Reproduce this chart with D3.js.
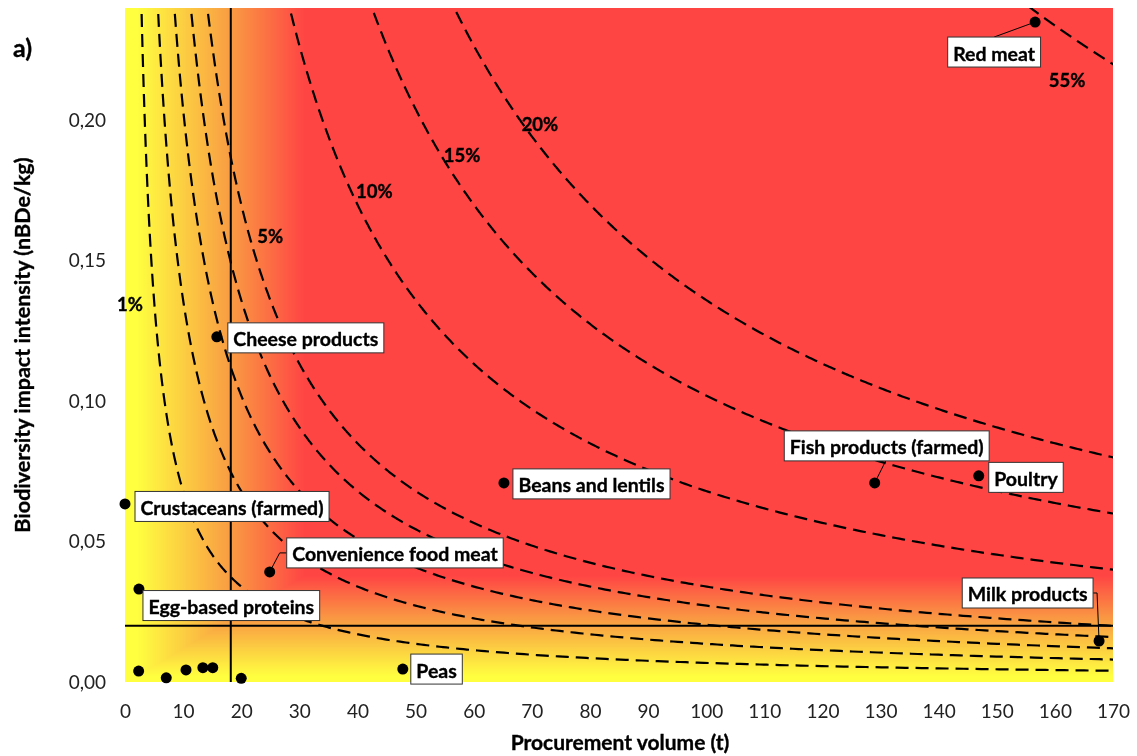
<!DOCTYPE html>
<html>
<head>
<meta charset="utf-8">
<script src="https://cdn.jsdelivr.net/npm/d3@7"></script>
<style>
  html, body { margin: 0; padding: 0; background: #fff; }
  #wrap { position: relative; width: 1137px; height: 756px; }
  #bg, #chart { position: absolute; left: 0; top: 0; }
  text { font-family: Lato, "Open Sans", sans-serif; }
  .bold { font-weight: bold; stroke: #000; stroke-width: 0.35px; }
</style>
</head>
<body>
<div id="wrap">
  <canvas id="bg" width="1137" height="756"></canvas>
  <svg id="chart" width="1137" height="756"></svg>
</div>
<script>
// products: procurement volume (t) and biodiversity impact intensity (nBDe/kg)
const products = ["Red meat", "Cheese products", "Crustaceans (farmed)", "Convenience food meat",
  "Egg-based proteins", "Peas", "Beans and lentils", "Fish products (farmed)", "Poultry", "Milk products"];
const volumes = [156.6, 15.8, 0.0, 24.9, 2.4, 47.8, 65.2, 129.0, 146.9, 167.6];
const intensities = [0.235, 0.1229, 0.0634, 0.0392, 0.0331, 0.0046, 0.0709, 0.0709, 0.0734, 0.0146];

// small unlabeled products near the origin
const otherVolumes = [2.35, 7.1, 10.5, 13.4, 15.1, 20.0];
const otherIntensities = [0.0039, 0.0015, 0.0043, 0.0051, 0.0051, 0.0013];

// iso-impact curves (share of total impact), total in t*nBDe/kg
const totalImpact = 68;
const curveShares = [1, 2, 3, 4, 5, 10, 15, 20, 55];
const labeledShares = [1, 5, 10, 15, 20, 55];
const shareLabelX = [0.86, 25.0, 42.9, 58.0, 71.4, 162.1];
const shareLabelY = [0.1346, 0.1588, 0.1749, 0.1877, 0.1987, 0.2144];

// reference lines
const meanVolume = 18.2;
const meanIntensity = 0.02;

const xTicks = d3.range(0, 171, 10);
const yTicks = [0, 0.05, 0.10, 0.15, 0.20];

const pLeft = 125, pRight = 1113, pTop = 8, pBottom = 682;
const x = d3.scaleLinear().domain([0, 170]).range([pLeft, pRight]);
const y = d3.scaleLinear().domain([0, 0.24]).range([pBottom, pTop]);

// background: yellow -> orange -> red
const col = d3.scaleLinear().domain([0, 0.55, 1])
  .range(["#ffff40", "#f99d43", "#ff4444"]).clamp(true);
const ctx = document.getElementById("bg").getContext("2d");
const W = pRight - pLeft, H = pBottom - pTop;
const img = ctx.createImageData(W, H);
for (let py = 0; py < H; py++) {
  const yv = y.invert(py + pTop + 0.5);
  const ty = Math.max(0, Math.min(1, (yv - 0.002) / 0.036));
  for (let px = 0; px < W; px++) {
    const xv = x.invert(px + pLeft + 0.5);
    const tx = Math.max(0, Math.min(1, (xv - 2) / 29));
    const c = d3.rgb(col(Math.min(tx, ty)));
    const i = (py * W + px) * 4;
    img.data[i] = c.r; img.data[i + 1] = c.g; img.data[i + 2] = c.b; img.data[i + 3] = 255;
  }
}
ctx.putImageData(img, pLeft, pTop);

const svg = d3.select("#chart");
const fmt = d => d3.format(".2f")(d).replace(".", ",");

svg.append("defs").append("clipPath").attr("id", "plot")
  .append("rect").attr("x", pLeft).attr("y", pTop).attr("width", W).attr("height", H);

// axes (labels only)
const gx = svg.append("g").attr("transform", `translate(0,${pBottom + 11})`)
  .call(d3.axisBottom(x).tickValues(xTicks).tickSize(0).tickPadding(12));
const gy = svg.append("g").attr("transform", `translate(${pLeft - 8},0)`)
  .call(d3.axisLeft(y).tickValues(yTicks).tickFormat(fmt).tickSize(0).tickPadding(11));
[gx, gy].forEach(g => {
  g.select(".domain").remove();
  g.selectAll("text").attr("font-family", "Lato, sans-serif").attr("font-size", 19).attr("fill", "#222");
});

svg.append("text").attr("class", "bold").attr("x", 620).attr("y", 750).attr("text-anchor", "middle")
  .attr("font-size", 21).text("Procurement volume (t)");
svg.append("text").attr("class", "bold").attr("transform", "translate(30,345) rotate(-90)").attr("text-anchor", "middle")
  .attr("font-size", 21.5).text("Biodiversity impact intensity (nBDe/kg)");
svg.append("text").attr("class", "bold").attr("x", 13).attr("y", 57).attr("font-size", 25).text("a)");

// iso-impact curves
const plot = svg.append("g").attr("clip-path", "url(#plot)");
const line = d3.line().x(d => x(d[0])).y(d => y(d[1]));
curveShares.forEach(s => {
  const k = s / 100 * totalImpact;
  const x0 = Math.max(k / 0.245, 0.01);
  const pts = d3.range(0, 401).map(i => {
    const xv = x0 * Math.pow(172 / x0, i / 400);
    return [xv, k / xv];
  });
  plot.append("path").attr("d", line(pts)).attr("fill", "none")
    .attr("stroke", "#000").attr("stroke-width", 2.2).attr("stroke-dasharray", "13,7");
});

labeledShares.forEach((s, i) => {
  svg.append("text").attr("class", "bold").attr("x", x(shareLabelX[i])).attr("y", y(shareLabelY[i]))
    .attr("text-anchor", "middle").attr("dominant-baseline", "central")
    .attr("font-size", 18.5).text(s + "%");
});

// reference lines
svg.append("line").attr("x1", x(meanVolume)).attr("x2", x(meanVolume)).attr("y1", pTop).attr("y2", pBottom)
  .attr("stroke", "#000").attr("stroke-width", 2);
svg.append("line").attr("x1", pLeft).attr("x2", pRight).attr("y1", y(meanIntensity)).attr("y2", y(meanIntensity))
  .attr("stroke", "#000").attr("stroke-width", 2);

// points
const dots = svg.append("g");
otherVolumes.forEach((v, i) => {
  dots.append("circle").attr("cx", x(v)).attr("cy", y(otherIntensities[i])).attr("r", 5.5).attr("fill", "#000");
});

// label placement: anchor edge offset from the point, in px
const place = {
  "Red meat": { dx: -41, dy: 30, anchor: "middle", leader: "top" },
  "Cheese products": { dx: 11, dy: 1, anchor: "start" },
  "Crustaceans (farmed)": { dx: 10, dy: 2.5, anchor: "start" },
  "Convenience food meat": { dx: 17, dy: -19, anchor: "start", leader: "elbowLeft" },
  "Egg-based proteins": { dx: 4, dy: 16.5, anchor: "start" },
  "Peas": { dx: 8, dy: 0, anchor: "start" },
  "Beans and lentils": { dx: 9, dy: 1, anchor: "start" },
  "Fish products (farmed)": { dx: 12, dy: -37, anchor: "middle", leader: "bottom" },
  "Poultry": { dx: 10, dy: 1.5, anchor: "start" },
  "Milk products": { dx: -6, dy: -48, anchor: "end", leader: "elbowRight" }
};

const labels = svg.append("g");
products.forEach((name, i) => {
  const px = x(volumes[i]), py = y(intensities[i]);
  const p = place[name];
  const g = labels.append("g");
  const t = g.append("text").attr("class", "bold").attr("font-size", 19.5)
    .attr("dominant-baseline", "central").text(name);
  const w = t.node().getComputedTextLength() + 11, h = 30;
  let bx = px + p.dx;
  if (p.anchor === "middle") bx -= w / 2;
  if (p.anchor === "end") bx -= w;
  const cy = py + p.dy;
  t.attr("x", bx + 5.5).attr("y", cy + 1);
  g.insert("rect", "text").attr("x", bx).attr("y", cy - h / 2).attr("width", w).attr("height", h)
    .attr("fill", "#fff").attr("stroke", "#333").attr("stroke-width", 1);
  if (p.leader === "top") {
    g.insert("path", "rect").attr("d", `M${bx + w / 2},${cy - h / 2}L${px},${py}`)
      .attr("stroke", "#000").attr("fill", "none");
  } else if (p.leader === "bottom") {
    g.insert("path", "rect").attr("d", `M${bx + w / 2 - 1},${cy + h / 2}L${px},${py}`)
      .attr("stroke", "#000").attr("fill", "none");
  } else if (p.leader === "elbowLeft") {
    g.insert("path", "rect").attr("d", `M${bx},${cy}H${px + 10}L${px},${py}`)
      .attr("stroke", "#000").attr("fill", "none");
  } else if (p.leader === "elbowRight") {
    g.insert("path", "rect").attr("d", `M${bx + w},${cy}H${bx + w + 4}L${px},${py}`)
      .attr("stroke", "#000").attr("fill", "none");
  }
  dots.append("circle").attr("cx", px).attr("cy", py).attr("r", 5.5).attr("fill", "#000");
});
labels.raise();
</script>
</body>
</html>
